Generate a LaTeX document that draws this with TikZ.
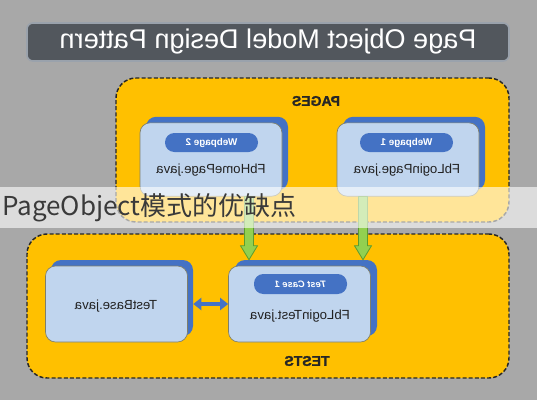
\documentclass[tikz,border=0pt]{standalone}
\usepackage{fontspec}
\setmainfont{Liberation Sans}
\newfontfamily\heavyfont[BoldFeatures={FakeBold=1.6}]{Liberation Sans}
\newfontfamily\cjk{Noto Sans CJK SC}
\usetikzlibrary{arrows.meta,calc}
\definecolor{bg}{HTML}{A8A8A8}
\definecolor{orangebox}{HTML}{FFC000}
\definecolor{cardfill}{HTML}{C0D5EE}
\definecolor{cardedge}{HTML}{7F7F6A}
\definecolor{shadowblue}{HTML}{4472C4}
\definecolor{titlefill}{HTML}{52575D}
\definecolor{titleedge}{HTML}{9AA2AC}
\definecolor{greenfill}{HTML}{92D050}
\definecolor{greenedge}{HTML}{5B9B2F}
\definecolor{darktext}{HTML}{222222}
\definecolor{overlaytext}{HTML}{3A3A3A}
\begin{document}
\begin{tikzpicture}[x=0.75pt,y=-0.75pt,
  groupbox/.style={draw=black!85, dash pattern=on 3pt off 1.6pt, line width=1.1pt,
    fill=orangebox, rounded corners=15pt, inner sep=0pt},
  card/.style={draw=cardedge, line width=0.5pt, fill=cardfill, rounded corners=7.5pt,
    minimum width=106.5pt, minimum height=55pt, inner sep=0pt},
  cardshadow/.style={fill=shadowblue, rounded corners=7.5pt,
    minimum width=106.5pt, minimum height=55pt, inner sep=0pt},
  pill/.style={fill=shadowblue, rounded corners=7pt, minimum width=69.75pt,
    minimum height=14.25pt, text=white, inner sep=0pt,
    font=\bfseries\fontsize{7.4}{9}\selectfont},
  cardtext/.style={text=darktext, inner sep=0pt, font=\fontsize{9.9}{11}\selectfont},
  grouplabel/.style={text=black!85, inner sep=0pt, font=\heavyfont\bfseries\fontsize{10.5}{12}\selectfont},
  greenarrow/.style={fill=greenfill, draw=greenedge, line width=0.6pt},
  dblarrow/.style={draw=shadowblue, line width=2.3pt,
    {Triangle[width=9pt,length=6pt]}-{Triangle[width=9pt,length=6pt]}}
]
\useasboundingbox (0,0) rectangle (537,400);
\fill[bg] (0,0) rectangle (537,400);

% title
\node[draw=titleedge, line width=1.2pt, fill=titlefill, rounded corners=4.5pt,
  minimum width=361.5pt, minimum height=28.5pt, inner sep=0pt, text=white,
  font=\fontsize{20.3}{22}\selectfont] (title) at (268,42)
  {\reflectbox{Page Object Model Design Pattern}};

% group boxes
\node[groupbox, minimum width=294.75pt, minimum height=108pt] (pages) at (312.5,150) {};
\node[groupbox, minimum width=361.5pt, minimum height=108pt] (tests) at (268,306) {};
\node[grouplabel] (pageslbl) at (316,101) {\reflectbox{PAGES}};
\node[grouplabel] (testslbl) at (307,361) {\reflectbox{TESTS}};

% page cards
\node[cardshadow] (wp2s) at (217,153.5) {};
\node[card] (wp2) at (211,159.5) {};
\node[pill] (wp2p) at (211.5,142.5) {\reflectbox{Webpage 2}};
\node[cardtext] (wp2t) at (211,170) {\reflectbox{FbHomePage.java}};

\node[cardshadow] (wp1s) at (414,153.5) {};
\node[card] (wp1) at (408,159.5) {};
\node[pill] (wp1p) at (406.5,142.5) {\reflectbox{Webpage 1}};
\node[cardtext] (wp1t) at (407,170) {\reflectbox{FbLoginPage.java}};

% test cards
\node[cardshadow, minimum height=57pt] (tbs) at (122,298) {};
\node[card, minimum height=57pt] (tb) at (116.5,304) {};
\node[cardtext] (tbt) at (116,306) {\reflectbox{TestBase.java}};

\node[cardshadow, minimum height=57pt] (flts) at (306,298) {};
\node[card, minimum height=57pt] (flt) at (299.5,304) {};
\node[pill, minimum height=15pt, font=\bfseries\itshape\fontsize{7}{9}\selectfont] (fltp) at (300.5,284) {\reflectbox{Test Case 1}};
\node[cardtext] (fltt) at (300,316) {\reflectbox{FbLoginTest.java}};

% double arrow
\draw[dblarrow] (tbs.east |- tb.east) -- (flt.west);

% green arrows
\coordinate (g1a) at (249,0 |- wp2.south);
\coordinate (g1b) at (249,0 |- flts.north);
\coordinate (g2a) at (363,0 |- wp1.south);
\coordinate (g2b) at (363,0 |- flts.north);
\foreach \a/\b in {g1a/g1b, g2a/g2b}{
  \draw[greenarrow] ($(\a)+(-4.5,0)$) -- ($(\b)+(-4.5,-14)$) -- ($(\b)+(-8.5,-14)$)
    -- (\b) -- ($(\b)+(8.5,-14)$) -- ($(\b)+(4.5,-14)$) -- ($(\a)+(4.5,0)$) -- cycle;
}

% overlay band
\fill[white, opacity=0.6] (0,187) rectangle (537,228);
\node[anchor=base west, inner sep=0pt, text=overlaytext,
  font=\cjk\fontsize{19.5}{21}\selectfont] (overlay) at (2,215) {PageObject模式的优缺点};
\end{tikzpicture}
\end{document}
